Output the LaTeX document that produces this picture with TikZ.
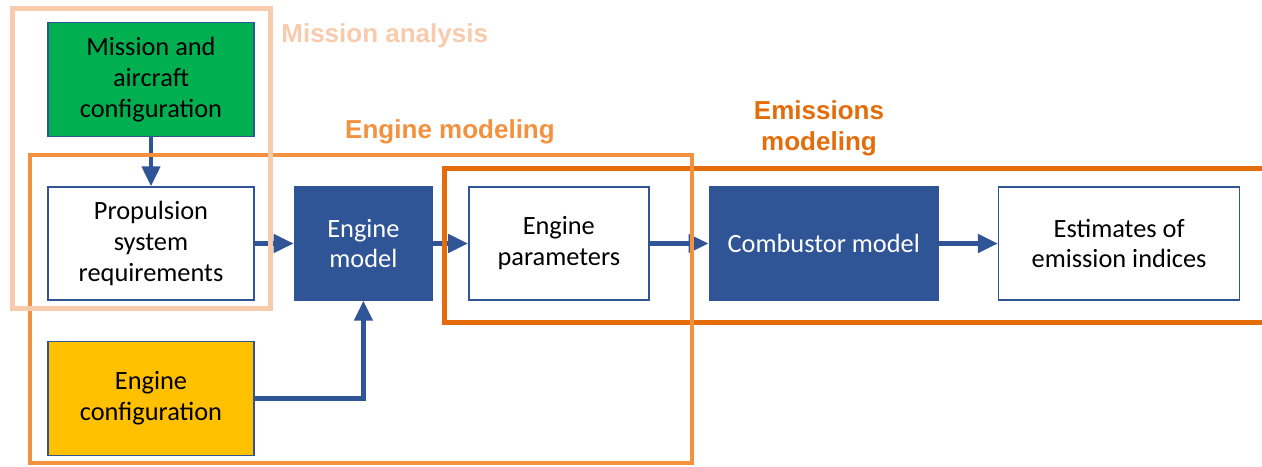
\documentclass[tikz,border=0pt]{standalone}
\usepackage{fontspec}
\setmainfont{Carlito}
\newfontfamily\labelfont{Liberation Sans}
\usetikzlibrary{positioning,arrows.meta}
\definecolor{boxblue}{HTML}{2F5597}
\definecolor{missiongreen}{HTML}{00B050}
\definecolor{configyellow}{HTML}{FFC000}
\definecolor{missionpeach}{HTML}{F8CBAD}
\definecolor{engineorange}{HTML}{F4913E}
\definecolor{emissionorange}{HTML}{E46C0A}
\tikzset{
        block/.style={draw=boxblue, line width=0.8pt, align=center, inner sep=0pt,
                minimum height=2.26cm, font=\fontsize{15pt}{17.6pt}\selectfont},
        whitebox/.style={block, fill=white},
        bluebox/.style={block, fill=boxblue, text=white},
        flow/.style={draw=boxblue, line width=0.09cm, -{Triangle[length=0.4cm,width=0.36cm]}},
        frame/.style={line width=0.1cm},
        framelabel/.style={inner sep=0pt, align=center,
                font=\labelfont\bfseries\fontsize{14.8pt}{17.6pt}\selectfont}
}

\begin{document}
\begin{tikzpicture}
        \useasboundingbox (0,0) rectangle (25.24,-9.32);

        \node (prop) [whitebox, minimum width=4.12cm] at (3.02,-4.87) {Propulsion\\system\\requirements};
        \node (mission) [block, fill=missiongreen, minimum width=4.12cm, minimum height=2.28cm, above=0.98cm of prop] {Mission and\\aircraft\\configuration};
        \node (config) [block, fill=configyellow, minimum width=4.12cm, minimum height=2.28cm, below=0.8cm of prop] {Engine\\configuration};
        \node (model) [bluebox, minimum width=2.76cm, right=0.78cm of prop] {Engine\\model};
        \node (param) [whitebox, minimum width=3.6cm, right=0.7cm of model] {Engine\\parameters};
        \node (comb) [bluebox, minimum width=4.58cm, right=1.18cm of param] {Combustor model};
        \node (est) [whitebox, minimum width=4.82cm, right=1.18cm of comb] {Estimates of\\emission indices};

        \draw[flow] (mission) to (prop);
        \draw[flow] (prop) to (model);
        \draw[flow] (model) to (param);
        \draw[flow] (param) to (comb);
        \draw[flow] (comb) to (est);
        \draw[flow] (config) -| (model);

        \draw[frame, draw=emissionorange] (8.88,-3.36) rectangle (25.5,-6.44);
        \draw[frame, draw=engineorange, line width=0.08cm] (0.6,-3.1) rectangle (13.84,-9.26);
        \draw[frame, draw=missionpeach] (0.24,-0.16) rectangle (5.41,-6.16);

        \node (missionlabel) [framelabel, text=missionpeach, anchor=west] at (5.62,-0.72) {Mission analysis};
        \node (enginelabel) [framelabel, text=engineorange] at (9.0,-2.64) {Engine modeling};
        \node (emissionlabel) [framelabel, text=emissionorange] at (16.38,-2.56) {Emissions\\modeling};
\end{tikzpicture}
\end{document}
